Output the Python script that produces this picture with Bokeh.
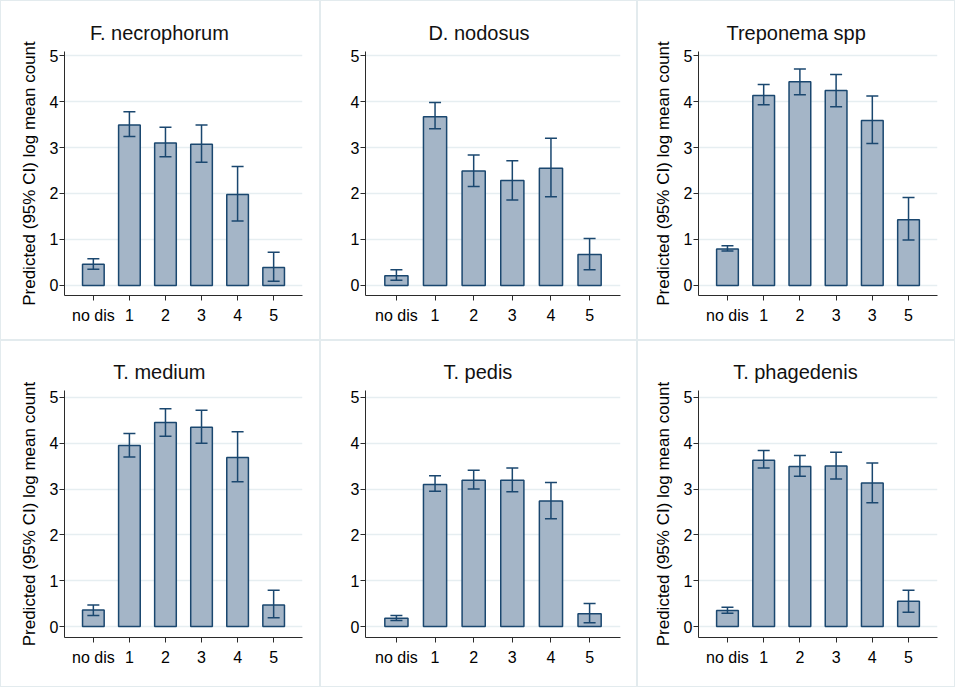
from bokeh.plotting import figure
from bokeh.layouts import gridplot
from bokeh.models import ColumnDataSource, Whisker, TeeHead, FixedTicker, Range1d
from bokeh.embed import file_html
from bokeh.resources import INLINE

# ---------------- data ----------------
categories = ["no dis", "1", "2", "3", "4", "5"]
treponema_labels = ["no dis", "1", "2", "3", "3", "5"]
y_ticks = [0, 1, 2, 3, 4, 5]

titles = ["F. necrophorum", "D. nodosus", "Treponema spp",
          "T. medium", "T. pedis", "T. phagedenis"]

fn_mean = [0.46, 3.49, 3.10, 3.07, 1.98, 0.39]
fn_lo = [0.35, 3.24, 2.80, 2.68, 1.40, 0.09]
fn_hi = [0.58, 3.78, 3.44, 3.49, 2.59, 0.72]

dn_mean = [0.21, 3.67, 2.49, 2.28, 2.55, 0.67]
dn_lo = [0.11, 3.41, 2.15, 1.86, 1.93, 0.34]
dn_hi = [0.34, 3.98, 2.84, 2.71, 3.20, 1.02]

tr_mean = [0.79, 4.13, 4.43, 4.24, 3.59, 1.43]
tr_lo = [0.75, 3.93, 4.15, 3.89, 3.09, 0.99]
tr_hi = [0.86, 4.37, 4.71, 4.59, 4.12, 1.91]

tm_mean = [0.36, 3.95, 4.45, 4.35, 3.69, 0.47]
tm_lo = [0.24, 3.70, 4.15, 4.00, 3.16, 0.19]
tm_hi = [0.47, 4.21, 4.75, 4.72, 4.25, 0.79]

tp_mean = [0.18, 3.10, 3.19, 3.19, 2.74, 0.28]
tp_lo = [0.13, 2.95, 3.00, 2.94, 2.35, 0.08]
tp_hi = [0.24, 3.29, 3.41, 3.46, 3.14, 0.50]

tph_mean = [0.35, 3.63, 3.49, 3.50, 3.13, 0.55]
tph_lo = [0.29, 3.46, 3.28, 3.22, 2.70, 0.31]
tph_hi = [0.42, 3.84, 3.73, 3.80, 3.57, 0.79]

y_label = "Predicted (95% CI) log mean count"

# ---------------- styling ----------------
FONT = "Liberation Sans"
TITLE_PX = 20
BAR_FILL = "#a4b5c7"
NAVY = "#1a476f"
GRID = "#e6eef1"
AXIS = "#2b2b2b"

# Arial / Liberation Sans advance widths (em/1000), used to centre the
# title over the whole panel rather than over the plot frame
ARIAL_W = {" ": 278, ".": 278, "F": 611, "D": 722, "T": 611, "n": 556,
           "e": 556, "c": 500, "r": 333, "o": 556, "p": 556, "h": 556,
           "u": 556, "m": 833, "d": 556, "s": 500, "a": 556, "g": 556,
           "i": 222, "l": 222}


def text_width(s, px):
    return sum(ARIAL_W.get(ch, 556) for ch in s) / 1000.0 * px


def make_panel(title, labels, mean, lo, hi, show_ylabel, width, height,
               left, right, top, bottom, y_start, y_end):
    xs = list(range(len(labels)))
    src = ColumnDataSource(dict(x=xs, mean=mean, lo=lo, hi=hi))
    p = figure(width=width, height=height, output_backend="svg",
               toolbar_location=None, x_range=Range1d(-0.8, len(labels) - 0.2),
               y_range=Range1d(y_start, y_end),
               min_border_left=left, min_border_right=right,
               min_border_top=top, min_border_bottom=bottom)
    p.border_fill_color = None
    p.background_fill_color = "white"
    p.outline_line_color = None
    p.styles = {"box-shadow": "inset 0 0 0 1px #e3ebee"}

    p.vbar(x="x", top="mean", bottom=0, width=0.6, source=src,
           fill_color=BAR_FILL, line_color=NAVY, line_width=1.5)
    w = Whisker(source=src, base="x", upper="hi", lower="lo",
                line_color=NAVY, line_width=1.5,
                upper_head=TeeHead(size=12, line_color=NAVY, line_width=1.5),
                lower_head=TeeHead(size=12, line_color=NAVY, line_width=1.5))
    w.level = "overlay"
    p.add_layout(w)

    p.title.text = title
    p.title.align = "left"
    p.title.offset = width / 2 - left - text_width(title, TITLE_PX) / 2
    p.title.text_font = FONT
    p.title.text_font_size = f"{TITLE_PX}px"
    p.title.text_font_style = "normal"
    p.title.text_color = "#111111"
    p.title.standoff = 16

    p.xgrid.visible = False
    p.ygrid.grid_line_color = GRID
    p.ygrid.grid_line_width = 1.5

    p.xaxis.ticker = FixedTicker(ticks=xs)
    p.xaxis.major_label_overrides = {i: lab for i, lab in zip(xs, labels)}
    p.yaxis.ticker = FixedTicker(ticks=y_ticks)
    for ax in (p.xaxis[0], p.yaxis[0]):
        ax.axis_line_color = AXIS
        ax.major_tick_line_color = AXIS
        ax.major_tick_out = 5
        ax.major_tick_in = 0
        ax.minor_tick_line_color = None
        ax.major_label_text_font = FONT
        ax.major_label_text_font_size = "16px"
        ax.major_label_text_color = "#000000"
    p.xaxis.major_label_standoff = 6
    p.yaxis.major_label_standoff = 1
    if show_ylabel:
        p.yaxis.axis_label = y_label
        p.yaxis.axis_label_text_font = FONT
        p.yaxis.axis_label_text_font_size = "17px"
        p.yaxis.axis_label_text_font_style = "normal"
        p.yaxis.axis_label_text_color = "#000000"
        p.yaxis.axis_label_standoff = 8
    return p


# column geometry: width, left border, right border
cols = [(320, 64, 18), (317, 45, 17), (318, 61, 18)]
# row geometry: height, top border, bottom border, y range
rows = [(340, 51, 45, -0.22, 5.09), (347, 50, 50, -0.24, 5.15)]

data = [
    (fn_mean, fn_lo, fn_hi, categories),
    (dn_mean, dn_lo, dn_hi, categories),
    (tr_mean, tr_lo, tr_hi, treponema_labels),
    (tm_mean, tm_lo, tm_hi, categories),
    (tp_mean, tp_lo, tp_hi, categories),
    (tph_mean, tph_lo, tph_hi, categories),
]

grid = []
for r in range(2):
    row_figs = []
    for c in range(3):
        i = r * 3 + c
        mean, lo, hi, labs = data[i]
        w, l, rt = cols[c]
        h, t, b, ys, ye = rows[r]
        row_figs.append(make_panel(titles[i], labs, mean, lo, hi, c != 1,
                                   w, h, l, rt, t, b, ys, ye))
    grid.append(row_figs)

layout = gridplot(grid, toolbar_location=None)

open("out.html", "w").write(file_html(layout, INLINE))
